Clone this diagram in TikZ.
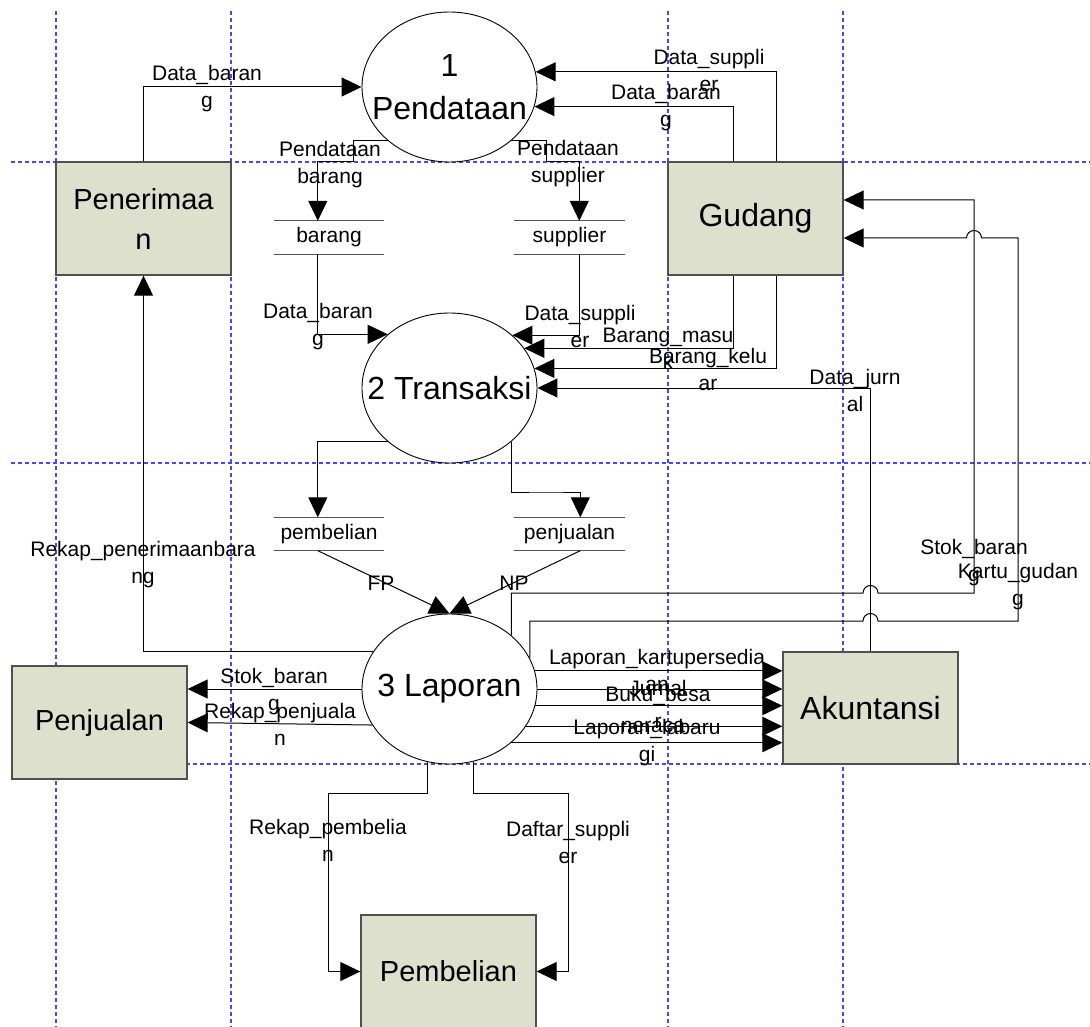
\documentclass[tikz,border=0pt]{standalone}
\usepackage{fontspec}
\setmainfont{Liberation Sans}
\usetikzlibrary{arrows.meta,shapes.geometric}
\definecolor{entityfill}{RGB}{221,224,204}
\definecolor{entityline}{RGB}{80,80,80}
\definecolor{gridblue}{RGB}{70,70,255}
\definecolor{storeline}{RGB}{85,85,85}
\newcommand\procfont{\fontsize{32}{43}\selectfont}
\newcommand\boxfont{\fontsize{29}{40}\selectfont}
\newcommand\flowfont{\fontsize{21}{27}\selectfont}
\begin{document}
\begin{tikzpicture}[x=1pt,y=-1pt,
  entity/.style={draw=entityline, line width=1.4pt, fill=entityfill,
    minimum width=175pt, minimum height=113pt, inner sep=0pt,
    font=\boxfont, align=center},
  proc/.style={draw=black, line width=0.9pt, fill=white, ellipse,
    minimum width=175pt, minimum height=150pt, inner sep=0pt},
  ptext/.style={font=\procfont, align=center, inner sep=0pt},
  store/.style={minimum width=110pt, minimum height=33pt, inner sep=0pt, font=\flowfont},
  flow/.style={draw=black, line width=1pt, -{Triangle[length=20pt,width=19pt]}},
  lbl/.style={font=\flowfont, align=center, inner sep=0pt},
  guide/.style={draw=gridblue, line width=1.1pt, dash pattern=on 4pt off 3pt}]

\clip (0,0) rectangle (1090,1027);
\fill[white] (0,0) rectangle (1090,1027);

% page guides
\foreach \gx in {56,231,668,843} \draw[guide] (\gx,11) -- (\gx,1027);
\foreach \gy in {162,463,764} \draw[guide] (11,\gy) -- (1090,\gy);

% external entities
\node[entity] (pen) at (143.5,218.5) {Penerimaa\\n};
\node[entity, font=\procfont] (gud) at (755.5,218.5) {Gudang};
\node[entity] (pjl) at (99.5,722.5) {Penjualan};
\node[entity, minimum height=112pt, font=\procfont] (aku) at (870.5,708) {Akuntansi};
\node[entity] (pmb) at (448.5,971.5) {Pembelian};

% processes
\node[proc] (p1) at (449.5,87) {};
\node[proc] (p2) at (449.5,388) {};
\node[proc] (p3) at (449.5,689) {};
\node[ptext] (t1) at (p1) {1\\Pendataan};
\node[ptext] (t2) at (p2) {2 Transaksi};
\node[ptext] (t3) at (p3) {3 Laporan};

% data stores
\node[store] (sbar) at (329,237.5) {barang};
\node[store] (ssup) at (569.5,237.5) {supplier};
\node[store] (spmb) at (329,534) {pembelian};
\node[store] (spjl) at (569.5,534) {penjualan};
\foreach \s in {sbar,ssup,spmb,spjl}
  \draw[storeline, line width=1.2pt] (\s.north west) -- (\s.north east)
                                     (\s.south west) -- (\s.south east);

% flows into 1 Pendataan
\draw[flow] (pen.north) |- (p1.west);
\draw[flow] ([xshift=109pt]gud.north west) |- (p1.10.6);
\draw[flow] ([xshift=66pt]gud.north west) |- (p1.-13.3);

% flows from 1 Pendataan to the stores
\draw[flow] (p1.221.7) -| (353,162) -| ([xshift=44pt]sbar.north west);
\draw[flow] (p1.-41.7) -| (546,162) -| ([xshift=65pt]ssup.north west);

% flows into 2 Transaksi
\draw[flow] ([xshift=44pt]sbar.south west) |- (p2.139.8);
\draw[flow] ([xshift=65pt]ssup.south west) |- (p2.40.2);
\draw[flow] ([xshift=66pt]gud.south west) |- (p2.28.3);
\draw[flow] ([xshift=109pt]gud.south west) |- (p2.13.3);
\draw[flow] (aku.north) |- (p2.east);

% flows from 2 Transaksi to the stores
\draw[flow] (p2.221.7) -| ([xshift=44pt]spmb.north west);
\draw[flow] (p2.-41) |- (546,492) -| ([xshift=66pt]spjl.north west);

% flows into 3 Laporan
\draw[flow] ([xshift=44pt]spmb.south west) -- (p3.north);
\draw[flow] ([xshift=66pt]spjl.south west) -- (p3.north);

% flows out of 3 Laporan
\draw[flow] (p3.154.9) -| (pen.south);
\draw[flow] (p3.west) -- (p3.west -| pjl.east);
\draw[flow] (p3.205.9) -- (pjl.east);
\draw[flow] (p3.12.7) -- (p3.12.7 -| aku.west);
\draw[flow] (p3.east) -- (p3.east -| aku.west);
\draw[flow] (p3.-11.9) -- (p3.-11.9 -| aku.west);
\draw[flow] (p3.-26.7) -- (p3.-26.7 -| aku.west);
\draw[flow] (p3.-41.7) -- (p3.-41.7 -| aku.west);
\draw[flow] (p3.253.5) |- (328,793) |- (pmb.west);
\draw[flow] (p3.-72) |- (568,793) |- (pmb.east);
\draw[flow] (p3.41) |- (863,593) arc[start angle=180,end angle=0,radius=7.5pt]
  -| (974,200) -- ([yshift=18.5pt]gud.east);
\draw[flow] (p3.21.5) |- (863,621) arc[start angle=180,end angle=0,radius=7.5pt]
  -| (1018,238) -- (981.5,238) arc[start angle=0,end angle=180,radius=7.5pt]
  -- ([yshift=-19.5pt]gud.east);

% flow labels
\node[lbl] (l1) at (207,89) {Data\_baran\\g};
\node[lbl] (l2) at (330,165) {Pendataan\\barang};
\node[lbl] (l3) at (568,164) {Pendataan\\supplier};
\node[lbl] (l4) at (709,70) {Data\_suppli\\er};
\node[lbl] (l5) at (666,108) {Data\_baran\\g};
\node[lbl] (l6) at (318,327) {Data\_baran\\g};
\node[lbl] (l7) at (580,326) {Data\_suppli\\er};
\node[lbl] (l8) at (668,349) {Barang\_masu\\k};
\node[lbl] (l9) at (708,369) {Barang\_kelu\\ar};
\node[lbl] (l10) at (855,390) {Data\_jurn\\al};
\node[lbl] (l11) at (143,565) {Rekap\_penerimaanbara\\ng};
\node[lbl] (l12) at (381,583) {FP};
\node[lbl] (l13) at (514,583) {NP};
\node[lbl] (l14) at (274,692) {Stok\_baran\\g};
\node[lbl] (l15) at (280,724) {Rekap\_penjuala\\n};
\node[lbl] (l16) at (974,563) {Stok\_baran\\g};
\node[lbl] (l17) at (1018,587) {Kartu\_gudan\\g};
\node[lbl] (l18) at (657,670) {Laporan\_kartupersedia\\an};
\node[lbl] (l19) at (658,688) {Jurnal};
\node[lbl] (l20) at (658,707) {Buku\_besa\\r};
\node[lbl] (l21) at (653,727) {neraca};
\node[lbl] (l22) at (647,743) {Laporan\_labaru\\gi};
\node[lbl] (l23) at (328,840) {Rekap\_pembelia\\n};
\node[lbl] (l24) at (568,842) {Daftar\_suppli\\er};
\end{tikzpicture}
\end{document}
